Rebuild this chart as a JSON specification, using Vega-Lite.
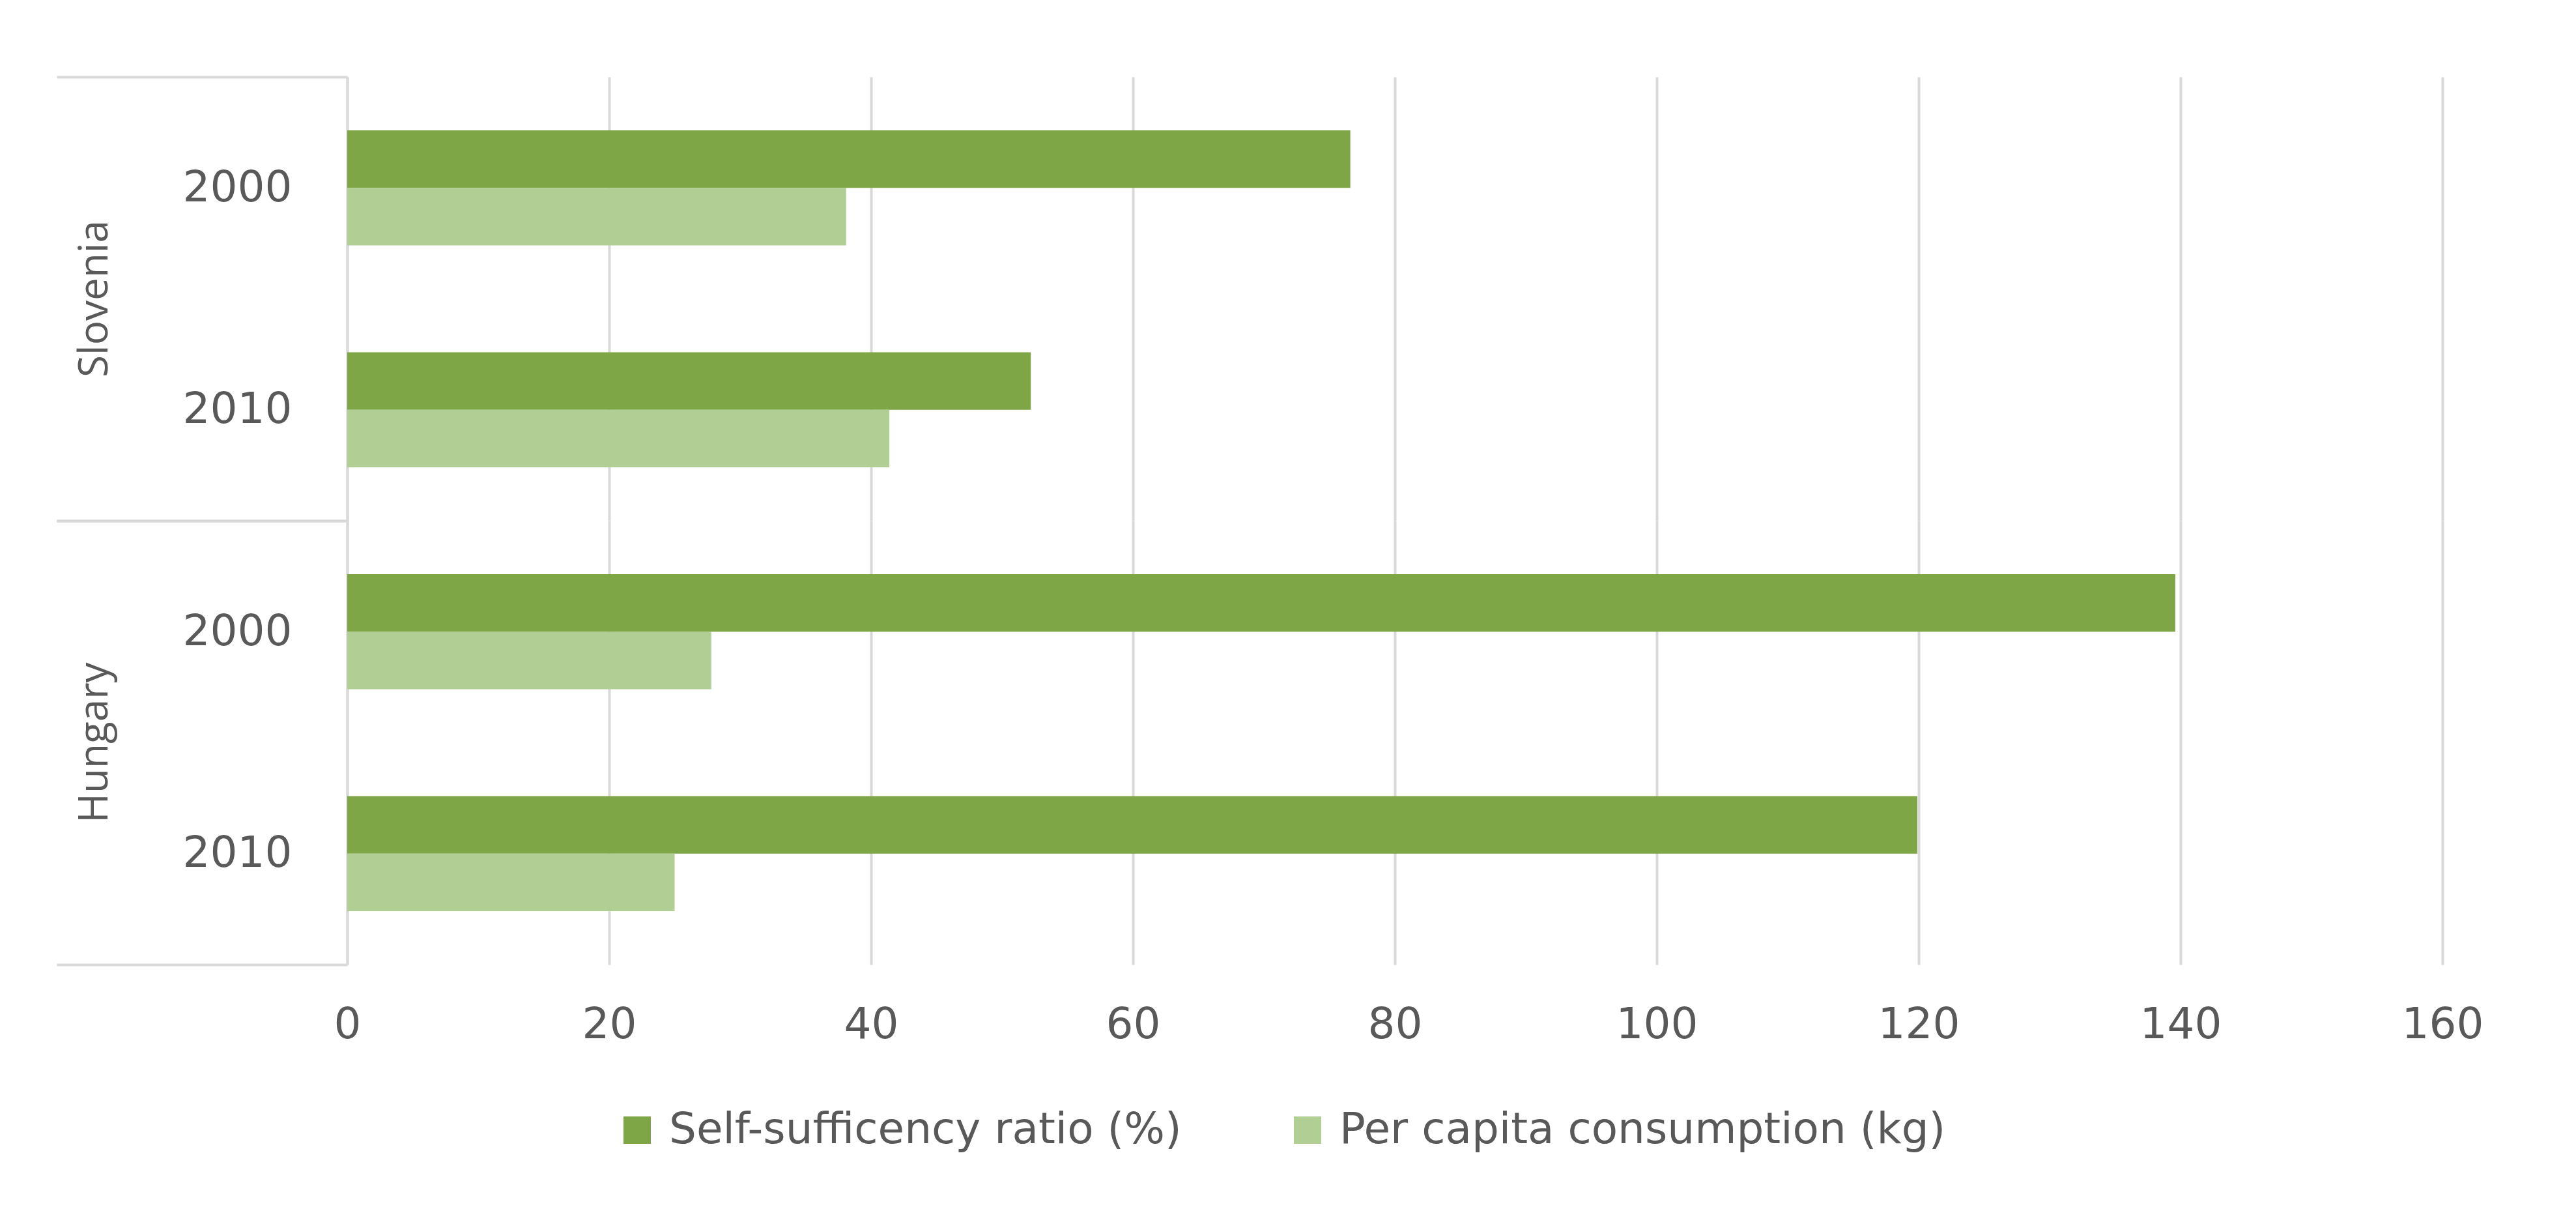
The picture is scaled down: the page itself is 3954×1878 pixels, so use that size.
{
  "$schema": "https://vega.github.io/schema/vega-lite/v6.json",
  "background": "white",
  "padding": {"left": 85, "top": 85, "right": 40, "bottom": 40},
  "data": {
    "values": [
      {"country": "Slovenia", "year": "2000", "series": "Self-sufficency ratio (%)", "value": 76.6},
      {"country": "Slovenia", "year": "2000", "series": "Per capita consumption (kg)", "value": 38.1},
      {"country": "Slovenia", "year": "2010", "series": "Self-sufficency ratio (%)", "value": 52.2},
      {"country": "Slovenia", "year": "2010", "series": "Per capita consumption (kg)", "value": 41.4},
      {"country": "Hungary", "year": "2000", "series": "Self-sufficency ratio (%)", "value": 139.6},
      {"country": "Hungary", "year": "2000", "series": "Per capita consumption (kg)", "value": 27.8},
      {"country": "Hungary", "year": "2010", "series": "Self-sufficency ratio (%)", "value": 119.9},
      {"country": "Hungary", "year": "2010", "series": "Per capita consumption (kg)", "value": 25.0}
    ]
  },
  "facet": {
    "row": {
      "field": "country",
      "type": "nominal",
      "sort": ["Slovenia", "Hungary"],
      "title": null,
      "header": {
        "labelOrient": "left",
        "labelAngle": -90,
        "labelAlign": "center",
        "labelFont": "Open Sans",
        "labelFontSize": 62,
        "labelColor": "#595959",
        "labelPadding": -123
      }
    }
  },
  "spacing": {"row": 0},
  "spec": {
    "width": 3216,
    "height": 681,
    "mark": {"type": "bar"},
    "encoding": {
      "y": {
        "field": "year",
        "type": "nominal",
        "sort": ["2000", "2010"],
        "scale": {"paddingInner": 0, "paddingOuter": 0},
        "axis": {
          "title": null,
          "labelAngle": 0,
          "labelFont": "DejaVu Sans",
          "labelFontSize": 66,
          "labelColor": "#595959",
          "labelPadding": -361,
          "ticks": true,
          "tickBand": "extent",
          "tickSize": 446,
          "tickColor": "#D9D9D9",
          "tickWidth": 4,
          "tickOpacity": {"condition": {"test": "datum.value == '2000'", "value": 0}, "value": 1},
          "domain": true,
          "domainColor": "#D9D9D9",
          "domainWidth": 4,
          "grid": false
        }
      },
      "yOffset": {
        "field": "series",
        "type": "nominal",
        "sort": ["Self-sufficency ratio (%)", "Per capita consumption (kg)"],
        "scale": {"paddingInner": 0, "paddingOuter": 0.93}
      },
      "x": {
        "field": "value",
        "type": "quantitative",
        "scale": {"domain": [0, 160], "nice": false},
        "axis": {
          "title": null,
          "values": [0, 20, 40, 60, 80, 100, 120, 140, 160],
          "grid": true,
          "gridColor": "#D9D9D9",
          "gridWidth": 4,
          "domain": false,
          "ticks": false,
          "labelFlush": false,
          "labelFont": "DejaVu Sans",
          "labelFontSize": 66,
          "labelColor": "#595959",
          "labelPadding": 60
        }
      },
      "color": {
        "field": "series",
        "type": "nominal",
        "sort": ["Self-sufficency ratio (%)", "Per capita consumption (kg)"],
        "scale": {
          "domain": ["Self-sufficency ratio (%)", "Per capita consumption (kg)"],
          "range": ["#7EA646", "#B1CF95"]
        },
        "legend": {
          "title": null,
          "orient": "none",
          "legendX": 412,
          "legendY": 1583,
          "direction": "horizontal",
          "symbolType": "square",
          "symbolSize": 1764,
          "symbolStrokeWidth": 0,
          "labelFont": "DejaVu Sans",
          "labelFontSize": 66,
          "labelColor": "#595959",
          "labelOffset": 16,
          "labelLimit": 0,
          "columnPadding": 160
        }
      }
    }
  },
  "config": {"view": {"stroke": null}}
}
